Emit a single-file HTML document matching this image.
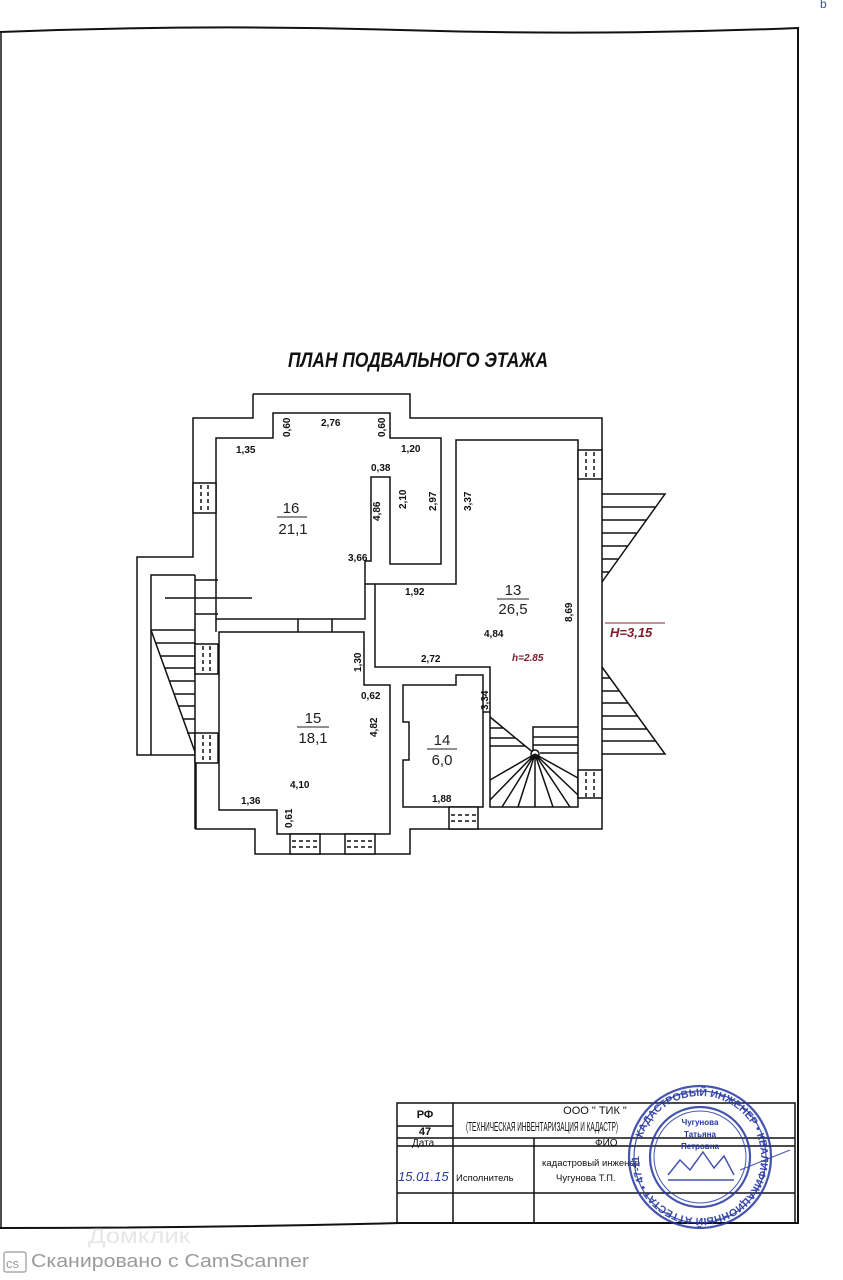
<!DOCTYPE html>
<html><head><meta charset="utf-8"><style>
html,body{margin:0;padding:0;background:#fff;width:843px;height:1280px;overflow:hidden}
svg{display:block}
text{font-family:"Liberation Sans","DejaVu Sans",sans-serif}
</style></head><body>
<svg width="843" height="1280" viewBox="0 0 843 1280" xmlns="http://www.w3.org/2000/svg">
<g fill="none" stroke="#111" stroke-width="1.8">
<path d="M0 32 Q200 24 400 30 T798 28 L798 1223 L400 1223 Q200 1228 0 1228" stroke-width="2"/>
<line x1="1" y1="32" x2="1" y2="1228" stroke-width="1.5"/>
</g>
<text x="820" y="8" font-size="12" fill="#4050a0">b</text>

<text x="288" y="367" font-family="Liberation Serif, serif" font-style="italic" font-weight="bold" font-size="21" textLength="260" lengthAdjust="spacingAndGlyphs" fill="#111">ПЛАН  ПОДВАЛЬНОГО  ЭТАЖА</text>

<g fill="none" stroke="#111" stroke-width="1.5">
<path d="M253 394 L410 394 L410 418 L602 418 L602 829 L410 829 L410 854 L255 854 L255 829 L196 829 L196 755"/>
<path d="M253 394 L253 418 L193 418 L193 557 L137 557 L137 755 L196 755"/>
<path d="M151 755 L151 575 L195 575"/>
<line x1="195" y1="575" x2="195" y2="829"/>
<line x1="195" y1="580" x2="218" y2="580"/>
<line x1="195" y1="614" x2="218" y2="614"/>
<line x1="165" y1="598" x2="252" y2="598"/>
<line x1="151" y1="630" x2="195" y2="752"/>
<line x1="151" y1="630" x2="195" y2="630"/>
<line x1="156" y1="643" x2="195" y2="643"/>
<line x1="160" y1="656" x2="195" y2="656"/>
<line x1="165" y1="668" x2="195" y2="668"/>
<line x1="169" y1="681" x2="195" y2="681"/>
<line x1="174" y1="694" x2="195" y2="694"/>
<line x1="178" y1="706" x2="195" y2="706"/>
<line x1="183" y1="719" x2="195" y2="719"/>
<line x1="187" y1="733" x2="195" y2="733"/>

<path d="M216 619 L216 438 L273 438 L273 413 L390 413 L390 438 L441 438 L441 564 L390 564 L390 477 L371 477 L371 561 L365 561 L365 619 Z"/>
<path d="M219 632 L364 632 L364 685 L390 685 L390 834 L277 834 L277 810 L219 810 Z"/>
<line x1="216" y1="619" x2="216" y2="632"/>
<line x1="298" y1="619" x2="298" y2="632"/>
<line x1="332" y1="619" x2="332" y2="632"/>
<path d="M375 619 L375 584 L456 584 L456 440 L578 440 L578 807 L490 807 L490 667 L375 667 Z"/>
<line x1="365" y1="584" x2="375" y2="584"/>
<path d="M403 685 L456 685 L456 675 L483 675 L483 807 L403 807 L403 760 L409 760 L409 722 L403 722 Z"/>
<line x1="483" y1="712" x2="490" y2="712"/>
<line x1="490" y1="717" x2="535" y2="754"/>
<line x1="490" y1="728" x2="503" y2="728"/>
<line x1="490" y1="738" x2="515" y2="738"/>
<line x1="490" y1="746" x2="525" y2="746"/>
<path d="M533 754 L533 727 L578 727 M533 737 L578 737 M533 745 L578 745 M540 753 L578 753"/>
<circle cx="535" cy="754" r="4" fill="#fff"/>
<path d="M535 754 L490 780 M535 754 L490 800 M535 754 L502 807 M535 754 L518 807 M535 754 L535 807 M535 754 L553 807 M535 754 L570 807 M535 754 L578 795 M535 754 L578 778"/>

<path d="M602 494 L665 494 L602 582 M602 507 L656 507 M602 520 L646 520 M602 533 L637 533 M602 546 L628 546 M602 559 L619 559 M602 572 L609 572"/>
<path d="M602 667 L665 754 L602 754 M602 678 L610 678 M602 691 L619 691 M602 703 L628 703 M602 716 L638 716 M602 729 L647 729 M602 741 L656 741"/>
</g>

<g stroke="#111" stroke-width="1.5" fill="#fff">
<rect x="193" y="483" width="23" height="30"/>
<rect x="195" y="644" width="23" height="30"/>
<rect x="195" y="733" width="23" height="30"/>
<rect x="578" y="450" width="24" height="29"/>
<rect x="578" y="770" width="24" height="28"/>
<rect x="290" y="834" width="30" height="20"/>
<rect x="345" y="834" width="30" height="20"/>
<rect x="449" y="807" width="29" height="22"/>
</g>
<g stroke="#111" stroke-width="1.5" stroke-dasharray="4,3">
<path d="M201 485 V512 M208 485 V512"/>
<path d="M203 646 V673 M210 646 V673"/>
<path d="M203 735 V762 M210 735 V762"/>
<path d="M586 452 V478 M594 452 V478"/>
<path d="M586 772 V797 M594 772 V797"/>
<path d="M292 841 H319 M292 847 H319"/>
<path d="M347 841 H374 M347 847 H374"/>
<path d="M451 815 H477 M451 821 H477"/>
</g>

<line x1="605" y1="623" x2="665" y2="623" stroke="#8a2030" stroke-width="1"/>
<text x="610" y="637" font-family="Liberation Serif, serif" font-style="italic" font-weight="bold" font-size="13" fill="#7a1a2a">H=3,15</text>
<text x="512" y="661" font-family="Liberation Serif, serif" font-style="italic" font-weight="bold" font-size="10" fill="#7a1a2a">h=2.85</text>

<g font-size="15" fill="#222" text-anchor="middle">
<text x="291" y="513">16</text><line x1="277" y1="517" x2="307" y2="517" stroke="#222"/>
<text x="293" y="534">21,1</text>
<text x="513" y="595">13</text><line x1="497" y1="599" x2="529" y2="599" stroke="#222"/>
<text x="513" y="614">26,5</text>
<text x="313" y="723">15</text><line x1="297" y1="727" x2="329" y2="727" stroke="#222"/>
<text x="313" y="743">18,1</text>
<text x="442" y="745">14</text><line x1="427" y1="749" x2="457" y2="749" stroke="#222"/>
<text x="442" y="765">6,0</text>
</g>
<g font-size="10" font-weight="bold" fill="#111">
<text x="236" y="453">1,35</text>
<text x="321" y="426">2,76</text>
<text x="401" y="452">1,20</text>
<text x="371" y="471">0,38</text>
<text x="348" y="561">3,66</text>
<text x="405" y="595">1,92</text>
<text x="484" y="637">4,84</text>
<text x="421" y="662">2,72</text>
<text x="361" y="699">0,62</text>
<text x="290" y="788">4,10</text>
<text x="241" y="804">1,36</text>
<text x="432" y="802">1,88</text>
<g transform="rotate(-90)">
<text x="-437" y="290">0,60</text>
<text x="-437" y="385">0,60</text>
<text x="-521" y="380">4,86</text>
<text x="-509" y="406">2,10</text>
<text x="-511" y="436">2,97</text>
<text x="-511" y="471">3,37</text>
<text x="-622" y="572">8,69</text>
<text x="-672" y="361">1,30</text>
<text x="-737" y="377">4,82</text>
<text x="-710" y="488">3,34</text>
<text x="-828" y="292">0,61</text>
</g>
</g>

<g stroke="#111" stroke-width="1.5" fill="none">
<rect x="397" y="1103" width="398" height="120"/>
<line x1="453" y1="1103" x2="453" y2="1223"/>
<line x1="534" y1="1138" x2="534" y2="1223"/>
<line x1="397" y1="1126" x2="453" y2="1126"/>
<line x1="397" y1="1138" x2="795" y2="1138"/>
<line x1="397" y1="1146" x2="795" y2="1146"/>
<line x1="397" y1="1193" x2="795" y2="1193"/>
</g>
<g font-family="Liberation Serif, serif" fill="#111" font-size="11">
<text x="425" y="1118" text-anchor="middle" font-weight="bold">РФ</text>
<text x="425" y="1135" text-anchor="middle" font-weight="bold">47</text>
<text x="412" y="1146" font-size="10">Дата</text>
<text x="595" y="1114" text-anchor="middle">ООО " ТИК "</text>
<text x="466" y="1131" font-size="13" textLength="152" lengthAdjust="spacingAndGlyphs">(ТЕХНИЧЕСКАЯ ИНВЕНТАРИЗАЦИЯ И КАДАСТР)</text>
<text x="595" y="1146" font-size="10">ФИО</text>
</g>
<text x="398" y="1181" font-size="13" font-style="italic" fill="#2a3a9a">15.01.15</text>
<g font-size="9.5" fill="#111">
<text x="456" y="1181">Исполнитель</text>
<text x="542" y="1166">кадастровый инженер</text>
<text x="556" y="1181">Чугунова Т.П.</text>
</g>

<g fill="none" stroke="#2538a0" stroke-width="2.2" opacity="0.85">
<circle cx="700" cy="1157" r="71"/>
<circle cx="700" cy="1157" r="66" stroke-width="1.2"/>
<circle cx="700" cy="1157" r="50"/>
<circle cx="700" cy="1157" r="46" stroke-width="1"/>
<path d="M668 1175 L680 1160 L690 1170 L703 1152 L714 1168 L724 1156 L734 1175 M668 1180 H734" stroke-width="1.5"/>
<path d="M740 1170 L790 1150" stroke-width="1"/>
</g>
<defs><path id="arc" d="M639 1157 A61 61 0 1 1 761 1157 A61 61 0 1 1 639 1157"/></defs>
<text font-size="10.5" font-weight="bold" fill="#2538a0" opacity="0.9"><textPath href="#arc" startOffset="5%">КАДАСТРОВЫЙ ИНЖЕНЕР • КВАЛИФИКАЦИОННЫЙ АТТЕСТАТ • 47-11-0500</textPath></text>
<g font-size="8" fill="#2538a0" text-anchor="middle" font-weight="bold">
<text x="700" y="1125">Чугунова</text>
<text x="700" y="1137">Татьяна</text>
<text x="700" y="1149">Петровна</text>
</g>

<text x="88" y="1243" font-size="21" fill="#e6e6e6" textLength="102" lengthAdjust="spacingAndGlyphs">Домклик</text>
<rect x="4" y="1252" width="22" height="20" rx="2" fill="none" stroke="#9a9a9a" stroke-width="1.2"/>
<text x="6" y="1268" font-size="13" fill="#9a9a9a">cs</text>
<text x="31" y="1267" font-size="18" fill="#9a9a9a" textLength="278" lengthAdjust="spacingAndGlyphs">Сканировано с CamScanner</text>
</svg>
</body></html>
